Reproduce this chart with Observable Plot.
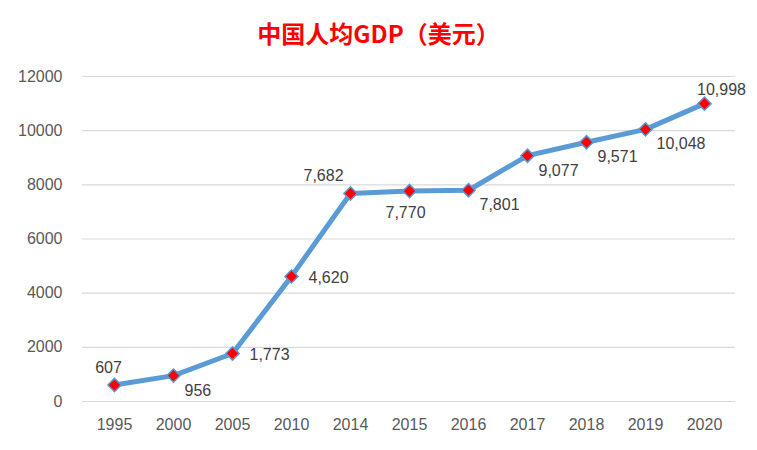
<!DOCTYPE html>
<html><head><meta charset="utf-8">
<script src="https://cdn.jsdelivr.net/npm/d3@7"></script>
<script src="https://cdn.jsdelivr.net/npm/@observablehq/plot@0.6"></script>
<style>
body{margin:0;background:#fff;}
#title{height:60px;width:757px;text-align:center;font-family:"Noto Sans CJK SC",sans-serif;font-weight:bold;font-size:24px;color:#ff0000;line-height:66px;}
</style></head>
<body>
<div id="title">中国人均GDP（美元）</div>
<div id="chart"></div>
<script>
const years = ["1995","2000","2005","2010","2014","2015","2016","2017","2018","2019","2020"];
const gdp = [607, 956, 1773, 4620, 7682, 7770, 7801, 9077, 9571, 10048, 10998];
const yTicks = [0, 2000, 4000, 6000, 8000, 10000, 12000];
const labelPlace = ["t","br","r","r","tl","b","br","br","br","br","tr"];

const data = years.map((y,i)=>({year:y, v:gdp[i], place:labelPlace[i]}));
const off = {
  t:[-6,-17,"middle"], tl:[-27,-18,"middle"], tr:[17,-14,"middle"],
  br:[11,15,"start"], r:[17,1,"start"], b:[-4,22,"middle"]
};
const fmt = d3.format(",");
const textMarks = Object.keys(off).map(k => Plot.text(data.filter(d=>d.place===k), {
  x:"year", y:"v", text:d=>fmt(d.v), dx:off[k][0], dy:off[k][1], textAnchor:off[k][2],
  fontSize:16, fill:"#404040", fontFamily:"Liberation Sans, Arial, sans-serif"
}));

const chart = Plot.plot({
  width:757, height:390,
  marginLeft:82, marginRight:22, marginTop:16, marginBottom:49,
  style:{fontFamily:"Liberation Sans, Arial, sans-serif", fontSize:"16px", color:"#595959", background:"#fff"},
  x:{type:"point", domain:years, padding:0.5, label:null, tickSize:0, tickPadding:17},
  y:{domain:[0,12000], ticks:yTicks, tickFormat:d=>String(d), label:null, tickSize:0, tickPadding:20},
  marks:[
    Plot.gridY(yTicks, {stroke:"#d9d9d9", strokeOpacity:1, strokeWidth:1.2}),
    Plot.line(data, {x:"year", y:"v", stroke:"#5B9BD5", strokeWidth:5, strokeLinejoin:"round", strokeLinecap:"round"}),
    Plot.dot(data, {x:"year", y:"v", symbol:"diamond2", r:6, fill:"#ff0000", stroke:"#5B9BD5", strokeWidth:1.5}),
    ...textMarks
  ]
});
document.getElementById("chart").appendChild(chart);
</script>
</body></html>
